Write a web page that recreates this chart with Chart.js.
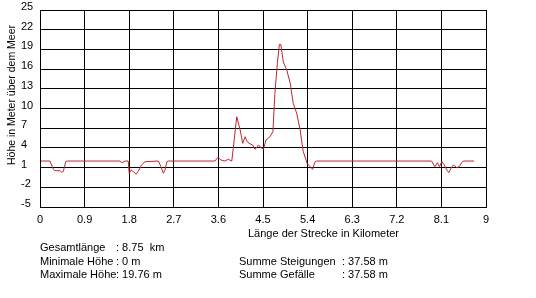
<!DOCTYPE html>
<html lang="de">
<head>
    <meta charset="UTF-8">
    <title>Höhenprofil</title>
    <script src="https://cdn.jsdelivr.net/npm/chart.js"></script>
    <style>
        body {
            margin: 0;
            background: #fff;
            font-family: Arial, "Liberation Sans", sans-serif;
        }
        #wrap {
            position: relative;
            width: 536px;
            height: 298px;
        }
        .row {
            position: absolute;
            font-size: 11px;
            line-height: 13px;
            color: #000;
            white-space: pre;
        }
        .row span {
            display: inline-block;
        }
        .l1 { width: 76px; }
        .l2 { width: 103px; }
    </style>
</head>
<body>
<div id="wrap">
    <canvas id="profil" width="536" height="298"></canvas>
    <div class="row" style="left:40px; top:241px;"><span class="l1">Gesamtlänge</span>: 8.75  km</div>
    <div class="row" style="left:40px; top:255px;"><span class="l1">Minimale Höhe</span>: 0 m</div>
    <div class="row" style="left:40px; top:268px;"><span class="l1">Maximale Höhe</span>: 19.76 m</div>
    <div class="row" style="left:239px; top:255px;"><span class="l2">Summe Steigungen</span>: 37.58 m</div>
    <div class="row" style="left:239px; top:268px;"><span class="l2">Summe Gefälle</span>: 37.58 m</div>
</div>
<script>
    // Strecke in km und Höhe in m
    const distances = [
        0.02, 0.20, 0.27, 0.30, 0.40, 0.44, 0.47, 0.52, 0.55,
        1.61, 1.65, 1.72, 1.78, 1.80, 1.84, 1.88, 1.94, 1.98, 2.05, 2.12,
        2.39, 2.44, 2.49, 2.52, 2.56, 2.59,
        3.53, 3.59, 3.65, 3.73, 3.80, 3.87, 3.90, 3.97, 4.04, 4.09, 4.14, 4.18,
        4.24, 4.29, 4.34, 4.41, 4.45, 4.51, 4.56, 4.64, 4.70, 4.74, 4.79, 4.83,
        4.86, 4.91, 4.98, 5.05, 5.11, 5.18, 5.25, 5.31, 5.39, 5.45, 5.50, 5.55, 5.58,
        7.90, 7.97, 8.02, 8.06, 8.11, 8.15, 8.21, 8.25, 8.31, 8.35, 8.41, 8.46,
        8.51, 8.54, 8.76
    ];
    const heights = [
        2.0, 2.0, 0.74, 0.53, 0.53, 0.28, 0.4, 1.9, 2.0,
        2.0, 1.75, 2.0, 2.0, 0.13, 0.64, 0.4, 0.0, 0.4, 1.4, 1.9,
        2.0, 1.14, 0.13, 0.6, 1.9, 2.0,
        2.0, 2.57, 2.16, 2.0, 2.26, 2.0, 3.94, 8.75, 6.72, 4.7, 5.7, 4.95,
        4.6, 4.44, 3.79, 4.44, 4.09, 3.79, 5.2, 5.7, 6.47, 12.3, 16.9, 19.76,
        19.76, 17.1, 15.86, 13.8, 10.8, 9.27, 6.72, 3.5, 1.65, 1.14, 0.74, 1.9, 2.0,
        2.0, 1.14, 1.75, 1.14, 1.9, 1.5, 0.64, 0.23, 1.14, 1.4, 1.0, 1.14,
        1.75, 2.0, 2.0
    ];
    const xTicks = [0, 0.9, 1.8, 2.7, 3.6, 4.5, 5.4, 6.3, 7.2, 8.1, 9];
    const yTicks = [-5, -2, 1, 4, 7, 10, 13, 16, 19, 22, 25];

    const xTitle = 'Länge der Strecke in Kilometer';
    const yTitle = 'Höhe in Meter über dem Meer';

    const font = { family: 'Arial, "Liberation Sans", sans-serif', size: 11 };

    const titles = {
        id: 'titles',
        afterDraw(chart) {
            const ctx = chart.ctx;
            ctx.save();
            ctx.fillStyle = '#000';
            ctx.font = '11px Arial, "Liberation Sans", sans-serif';
            ctx.textBaseline = 'middle';
            ctx.textAlign = 'left';
            ctx.fillText(xTitle, 248, 234);
            ctx.font = '10.5px Arial, "Liberation Sans", sans-serif';
            ctx.translate(12, 95);
            ctx.rotate(-Math.PI / 2);
            ctx.textAlign = 'center';
            ctx.fillText(yTitle, 0, 0);
            ctx.restore();
        }
    };

    new Chart(document.getElementById('profil'), {
        type: 'line',
        data: {
            datasets: [{
                data: distances.map((d, i) => ({ x: d, y: heights[i] })),
                borderColor: '#c0262c',
                borderWidth: 1,
                pointRadius: 0,
                tension: 0,
                fill: false
            }]
        },
        options: {
            responsive: false,
            animation: false,
            layout: { padding: { left: 21, top: 10, right: 50, bottom: 0 } },
            plugins: {
                legend: { display: false },
                tooltip: { enabled: false }
            },
            scales: {
                x: {
                    type: 'linear',
                    min: 0,
                    max: 9,
                    afterBuildTicks: s => { s.ticks = xTicks.map(v => ({ value: v })); },
                    afterFit: s => { s.height = 91; },
                    grid: { color: '#000', lineWidth: 1, drawTicks: false },
                    border: { display: true, color: '#000', width: 1 },
                    ticks: {
                        color: '#000',
                        font: font,
                        padding: 6,
                        maxRotation: 0,
                        autoSkip: false,
                        callback: v => String(Number(v.toFixed(1)))
                    }
                },
                y: {
                    min: -5,
                    max: 25,
                    afterBuildTicks: s => { s.ticks = yTicks.map(v => ({ value: v })); },
                    afterFit: s => { s.width = 19; },
                    grid: { color: '#000', lineWidth: 1, drawTicks: false },
                    border: { display: true, color: '#000', width: 1 },
                    ticks: {
                        color: '#000',
                        font: font,
                        crossAlign: 'far',
                        labelOffset: -3,
                        autoSkip: false
                    }
                }
            }
        },
        plugins: [titles]
    });
</script>
</body>
</html>
